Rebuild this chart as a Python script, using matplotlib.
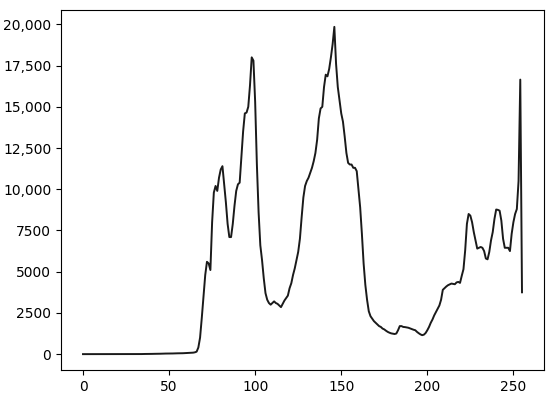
import numpy as np
import matplotlib
matplotlib.use('Agg')
import matplotlib.pyplot as plt
from matplotlib.ticker import FuncFormatter


# grey level histogram counts, one value per level 0..255
counts_0_63 = [0, 0, 0, 0, 0, 0, 0, 0, 0, 0, 0, 0, 0, 0, 0, 0,
               0, 0, 0, 0, 0, 0, 0, 0, 0, 0, 0, 0, 0, 0, 0, 0,
               5, 5, 5, 10, 10, 10, 10, 15, 15, 20, 20, 20, 25, 25, 30, 30,
               35, 35, 40, 40, 40, 45, 45, 50, 50, 55, 55, 60, 60, 65, 70, 80]
counts_64_127 = [90, 110, 150, 400, 1000, 2200, 3500, 4800, 5600, 5500, 5100, 8000, 9800, 10200, 9900, 10700,
                 11200, 11400, 10300, 9200, 7900, 7100, 7100, 7900, 9000, 9900, 10300, 10400, 12000, 13500, 14600, 14650,
                 15000, 16300, 18000, 17800, 15300, 11500, 8600, 6600, 5700, 4600, 3700, 3300, 3100, 3000, 3100, 3200,
                 3100, 3050, 2950, 2850, 3050, 3250, 3400, 3550, 4000, 4300, 4800, 5200, 5700, 6200, 7000, 8300]
counts_128_191 = [9500, 10200, 10500, 10700, 11000, 11300, 11700, 12200, 13000, 14300, 14900, 15000, 16200, 16950, 16850, 17300,
                  18000, 18800, 19850, 17600, 16200, 15400, 14600, 14100, 13200, 12200, 11600, 11500, 11500, 11300, 11300, 11100,
                  10000, 8900, 7300, 5500, 4200, 3300, 2600, 2300, 2150, 2000, 1900, 1800, 1700, 1650, 1550, 1500,
                  1420, 1350, 1300, 1260, 1240, 1220, 1250, 1450, 1700, 1700, 1650, 1640, 1620, 1600, 1560, 1520]
counts_192_255 = [1480, 1450, 1350, 1270, 1200, 1150, 1180, 1280, 1450, 1650, 1900, 2100, 2350, 2550, 2750, 2950,
                  3300, 3900, 4000, 4100, 4180, 4230, 4280, 4260, 4240, 4350, 4380, 4320, 4750, 5150, 6300, 7900,
                  8500, 8400, 8000, 7400, 6900, 6400, 6450, 6500, 6450, 6250, 5800, 5750, 6200, 6900, 7400, 8200,
                  8770, 8750, 8700, 8100, 7000, 6450, 6450, 6450, 6250, 7300, 8000, 8500, 8800, 10500, 16650, 3750]

counts = np.array(counts_0_63 + counts_64_127 + counts_128_191 + counts_192_255)
levels = np.arange(len(counts))


def fmt(v, pos):
    if abs(v) >= 10000:
        return '{:,.0f}'.format(v)
    return '{:.0f}'.format(v)


fig = plt.figure(figsize=(5.5, 3.96), dpi=100)
ax = fig.add_axes([0.111, 0.0644, 0.878, 0.9091])
ax.plot(levels, counts, color='#1a1a1a', linewidth=1.4)
ax.yaxis.set_major_formatter(FuncFormatter(fmt))
ax.set_yticks(np.arange(0, 20001, 2500))
ax.set_xticks([0, 50, 100, 150, 200, 250])
ax.tick_params(labelsize=10)
plt.savefig('out.png', dpi=100)
